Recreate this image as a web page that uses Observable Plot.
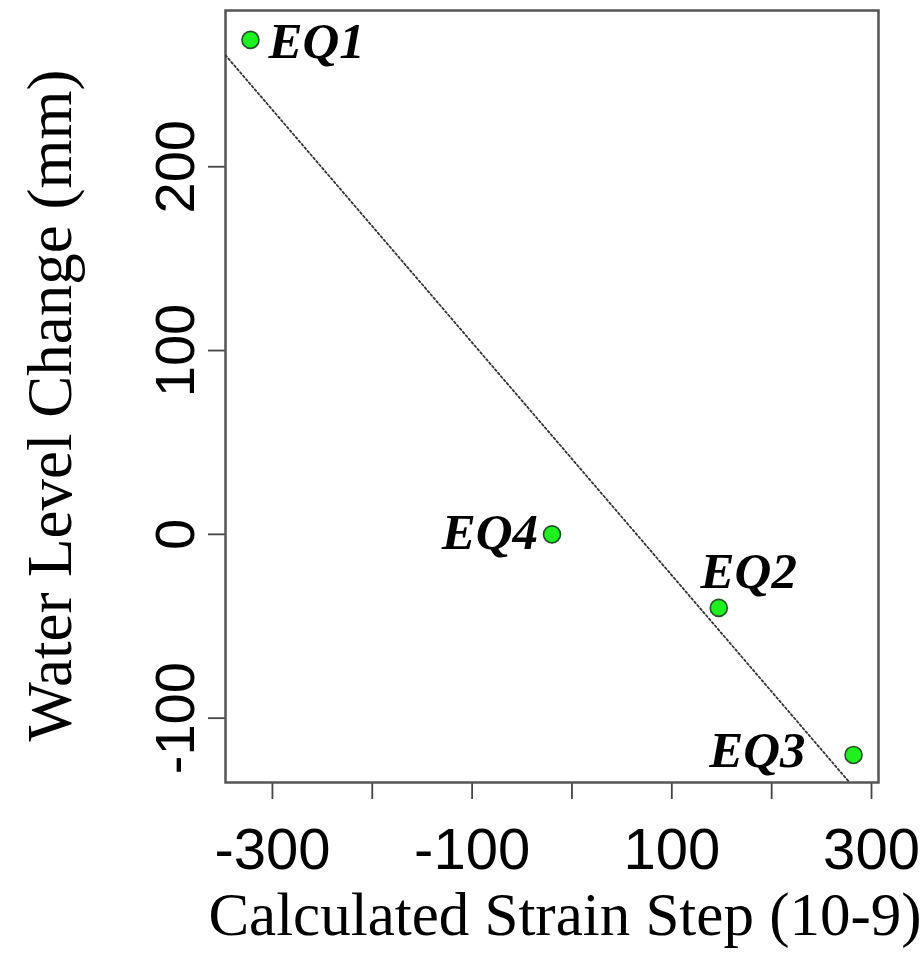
<!DOCTYPE html>
<html>
<head>
<meta charset="utf-8">
<script src="https://cdn.jsdelivr.net/npm/d3@7"></script>
<script src="https://cdn.jsdelivr.net/npm/@observablehq/plot@0.6"></script>
<style>
  html, body { margin: 0; padding: 0; background: #fff; }
  #chart svg { display: block; }
</style>
</head>
<body>
<div id="chart"></div>
<script>
// Data
const events = ["EQ1", "EQ2", "EQ3", "EQ4"];
const strainStep = [-322, 147, 282, -20];       // x: Calculated Strain Step (10-9)
const waterLevel = [269, -40, -120, 0];         // y: Water Level Change (mm)
const xTicks = [-300, -200, -100, 0, 100, 200, 300];
const xTickLabels = ["-300", "", "-100", "", "100", "", "300"];
const yTicks = [-100, 0, 100, 200];
const yTickLabels = ["-100", "0", "100", "200"];
const xTitle = "Calculated Strain Step (10-9)";
const yTitle = "Water Level Change (mm)";

const data = events.map((name, i) => ({name, x: strainStep[i], y: waterLevel[i]}));
const yTickData = yTicks.map((v, i) => ({v, label: yTickLabels[i]}));

const xDomain = [-347, 307];
const yDomain = [-135, 285];

// least-squares fit through the points
const mx = d3.mean(strainStep), my = d3.mean(waterLevel);
const sxy = d3.sum(strainStep, (x, i) => (x - mx) * (waterLevel[i] - my));
const sxx = d3.sum(strainStep, x => (x - mx) ** 2);
const slope = sxy / sxx, intercept = my - slope * mx;
const fit = xDomain.map(x => ({x, y: intercept + slope * x}));

const sans = "'Liberation Sans', Arial, Helvetica, sans-serif";
const serif = "'Liberation Serif', 'Times New Roman', Times, serif";
const labelStyle = {fontFamily: serif, fontWeight: "bold", fontStyle: "italic", fontSize: 51, fill: "#000"};
const lab = (name, opts) => Plot.text(data.filter(d => d.name === name), {x: "x", y: "y", text: "name", ...labelStyle, ...opts});

const chart = Plot.plot({
  width: 924,
  height: 959,
  marginLeft: 225,
  marginRight: 46,
  marginTop: 10,
  marginBottom: 177,
  style: {background: "#fff", overflow: "visible"},
  x: {domain: xDomain},
  y: {domain: yDomain},
  marks: [
    Plot.axisX({
      ticks: xTicks, tickSize: 17, tickPadding: 28, stroke: "#444", strokeWidth: 1.8,
      tickFormat: d => xTickLabels[xTicks.indexOf(d)], fontSize: 58, fontFamily: sans, fill: "#000", label: null
    }),
    Plot.axisY({
      ticks: yTicks, tickSize: 17, stroke: "#444", strokeWidth: 1.8,
      tickFormat: () => "", label: null
    }),
    Plot.text(yTickData, {
      y: "v", text: "label", frameAnchor: "left", dx: -49, rotate: -90, textAnchor: "middle", lineAnchor: "middle",
      fontSize: 56, fontFamily: sans, fill: "#000"
    }),
    Plot.frame({stroke: "#555", strokeWidth: 2.5}),
    Plot.line(fit, {x: "x", y: "y", stroke: "#333", strokeWidth: 1.8, strokeDasharray: "2,2.5", clip: true}),
    Plot.dot(data, {x: "x", y: "y", r: 8.5, fill: "#1ff01f", stroke: "#24502a", strokeWidth: 1.6}),
    lab("EQ1", {textAnchor: "start", dx: 18, dy: 2, lineAnchor: "middle"}),
    lab("EQ4", {textAnchor: "end", dx: -14, dy: -2, lineAnchor: "middle"}),
    lab("EQ2", {textAnchor: "middle", dx: 30, dy: -20, lineAnchor: "bottom"}),
    lab("EQ3", {textAnchor: "end", dx: -48, dy: -4, lineAnchor: "middle"}),
    Plot.text([xTitle], {frameAnchor: "bottom", dx: 13, dy: 133, textAnchor: "middle", lineAnchor: "middle", fontFamily: serif, fontSize: 61, fill: "#000"}),
    Plot.text([yTitle], {frameAnchor: "left", dx: -175, dy: 9, rotate: -90, textAnchor: "middle", lineAnchor: "middle", fontFamily: serif, fontSize: 63, fill: "#000"})
  ]
});
document.getElementById("chart").appendChild(chart);
</script>
</body>
</html>
